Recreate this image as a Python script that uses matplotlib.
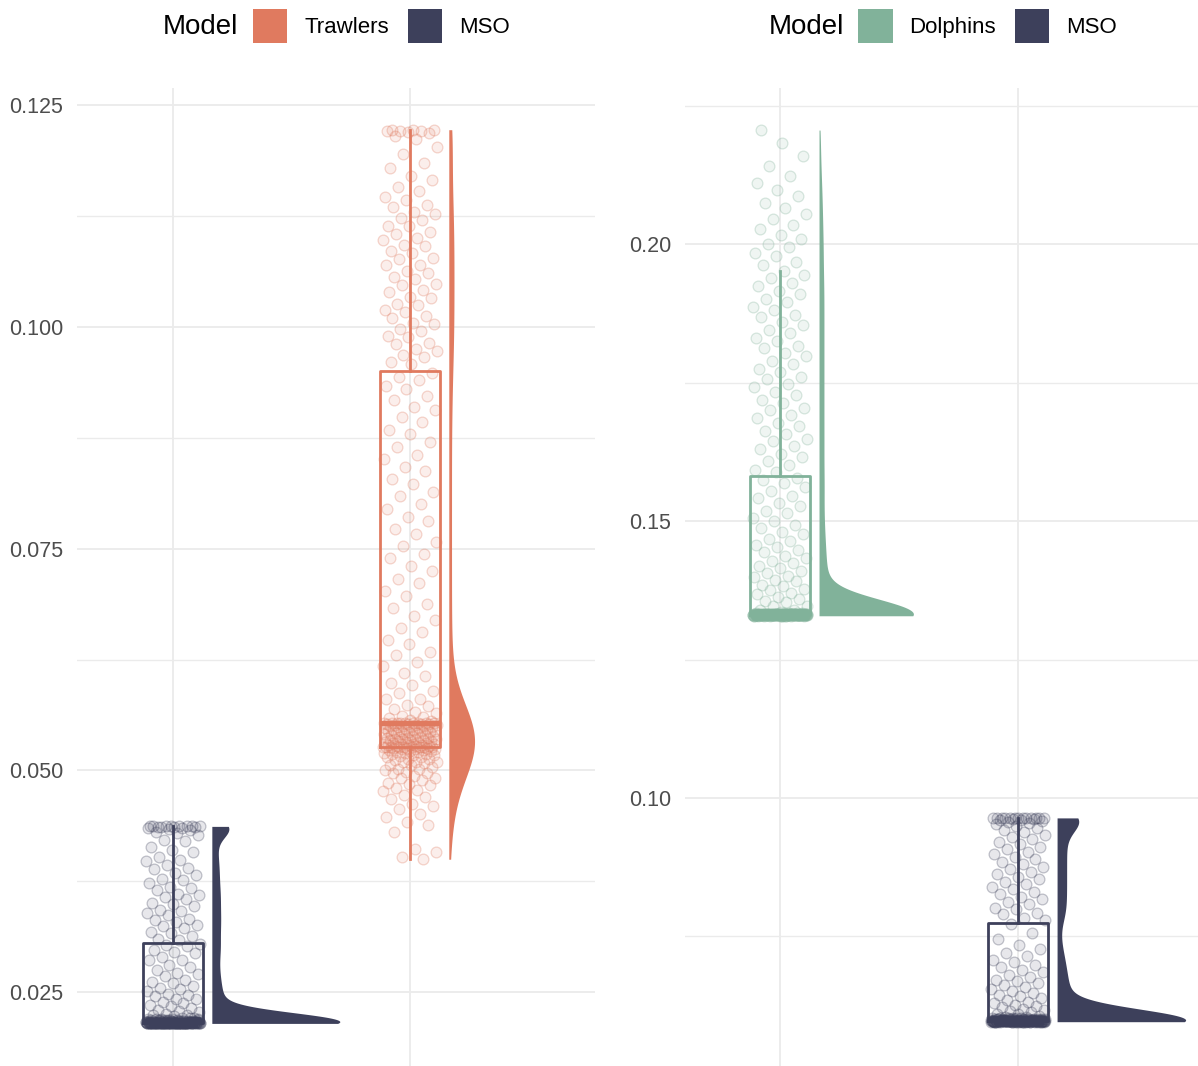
import numpy as np
import matplotlib.pyplot as plt
from matplotlib.colors import to_rgba
from matplotlib.patches import Patch

plt.rcParams['font.family'] = ['Liberation Sans', 'DejaVu Sans']

COL_TRAWL = '#E07A5F'
COL_MSO = '#3D405B'
COL_DOLPH = '#81B29A'

# %% data
mso_vs_trawlers = [
    0.0215, 0.0216, 0.0216, 0.0215, 0.0217, 0.0216, 0.0215, 0.0216, 0.0218, 0.0216,
    0.0215, 0.0216, 0.0217, 0.0216, 0.0215, 0.0216, 0.0216, 0.0217, 0.0215, 0.0216,
    0.0216, 0.0215, 0.0216, 0.0218, 0.0216, 0.0217, 0.0215, 0.0216, 0.0216, 0.0215,
    0.0217, 0.0216, 0.0215, 0.0216, 0.0216, 0.0217, 0.0216, 0.0215, 0.0216, 0.0218,
    0.0216, 0.0215, 0.0216, 0.0217, 0.0216, 0.0216, 0.0215, 0.0216, 0.0217, 0.0216,
    0.0215, 0.0216, 0.0216, 0.0218, 0.0215, 0.0216, 0.0217, 0.0216, 0.0215, 0.0216,
    0.0216, 0.0217, 0.0215, 0.0216, 0.0216, 0.0215, 0.0217, 0.0216, 0.0218, 0.0216,
    0.0215, 0.0216, 0.0217, 0.0216, 0.0215, 0.0216, 0.0216, 0.0219, 0.0216, 0.0215,
    0.0217, 0.0216, 0.0218, 0.0216, 0.0215, 0.0217, 0.0216, 0.0215, 0.0216, 0.0217,
    0.0216, 0.0215, 0.0217, 0.0216, 0.0218, 0.0216, 0.0215, 0.0216, 0.0217, 0.0216,
    0.0215, 0.0217, 0.0216, 0.0216, 0.0215, 0.0218, 0.0216, 0.0217, 0.0215, 0.0216,
    0.0216, 0.0216, 0.0215, 0.0217, 0.0216, 0.0215, 0.0216, 0.0218, 0.0216, 0.0217,
    0.0217, 0.0216, 0.0218, 0.0219, 0.0217, 0.0218, 0.0219, 0.0218, 0.0220, 0.0219,
    0.0218, 0.0219, 0.0220, 0.0219, 0.0220, 0.0221, 0.0219, 0.0220, 0.0221, 0.0220,
    0.0221, 0.0223, 0.0224, 0.0224, 0.0226, 0.0228, 0.0229, 0.0230, 0.0232, 0.0235,
    0.0236, 0.0238, 0.0239, 0.0242, 0.0243, 0.0246, 0.0247, 0.0248, 0.0251, 0.0254,
    0.0255, 0.0257, 0.0261, 0.0262, 0.0264, 0.0268, 0.0271, 0.0272, 0.0275, 0.0279,
    0.0281, 0.0286, 0.0287, 0.0290, 0.0294, 0.0295, 0.0298, 0.0302, 0.0303, 0.0305,
    0.0309, 0.0310, 0.0314, 0.0317, 0.0318, 0.0322, 0.0325, 0.0326, 0.0329, 0.0332,
    0.0333, 0.0337, 0.0339, 0.0342, 0.0343, 0.0347, 0.0350, 0.0351, 0.0355, 0.0357,
    0.0360, 0.0361, 0.0365, 0.0368, 0.0369, 0.0373, 0.0377, 0.0378, 0.0382, 0.0384,
    0.0389, 0.0390, 0.0393, 0.0398, 0.0399, 0.0403, 0.0408, 0.0410, 0.0414, 0.0420,
    0.0422, 0.0427, 0.0429, 0.0431, 0.0433, 0.0434, 0.0435, 0.0435, 0.0436, 0.0436,
    0.0436, 0.0437, 0.0437, 0.0437, 0.0437, 0.0437, 0.0436, 0.0437, 0.0437, 0.0437,
]

trawlers = [
    0.0400, 0.0403, 0.0408, 0.0411, 0.0431, 0.0438, 0.0442, 0.0448, 0.0451, 0.0457,
    0.0460, 0.0462, 0.0468, 0.0470, 0.0472, 0.0477, 0.0478, 0.0480, 0.0484, 0.0485,
    0.0486, 0.0489, 0.0491, 0.0492, 0.0494, 0.0497, 0.0497, 0.0498, 0.0500, 0.0502,
    0.0502, 0.0504, 0.0506, 0.0506, 0.0508, 0.0509, 0.0510, 0.0510, 0.0512, 0.0513,
    0.0513, 0.0515, 0.0515, 0.0516, 0.0517, 0.0517, 0.0518, 0.0519, 0.0520, 0.0520,
    0.0521, 0.0521, 0.0522, 0.0522, 0.0523, 0.0523, 0.0524, 0.0524, 0.0524, 0.0525,
    0.0525, 0.0525, 0.0526, 0.0526, 0.0526, 0.0526, 0.0527, 0.0527, 0.0527, 0.0527,
    0.0527, 0.0528, 0.0528, 0.0528, 0.0529, 0.0529, 0.0529, 0.0530, 0.0530, 0.0530,
    0.0531, 0.0531, 0.0532, 0.0532, 0.0532, 0.0533, 0.0533, 0.0534, 0.0534, 0.0534,
    0.0535, 0.0535, 0.0536, 0.0536, 0.0537, 0.0537, 0.0537, 0.0538, 0.0538, 0.0539,
    0.0539, 0.0540, 0.0540, 0.0541, 0.0541, 0.0542, 0.0542, 0.0543, 0.0543, 0.0544,
    0.0544, 0.0545, 0.0545, 0.0546, 0.0546, 0.0547, 0.0547, 0.0548, 0.0548, 0.0549,
    0.0549, 0.0549, 0.0550, 0.0550, 0.0550, 0.0551, 0.0551, 0.0551, 0.0552, 0.0552,
    0.0552, 0.0552, 0.0553, 0.0553, 0.0553, 0.0553, 0.0553, 0.0553, 0.0553, 0.0553,
    0.0554, 0.0556, 0.0557, 0.0559, 0.0560, 0.0561, 0.0565, 0.0566, 0.0569, 0.0573,
    0.0574, 0.0580, 0.0581, 0.0587, 0.0590, 0.0596, 0.0599, 0.0607, 0.0610, 0.0618,
    0.0622, 0.0630, 0.0634, 0.0643, 0.0647, 0.0656, 0.0660, 0.0669, 0.0674, 0.0683,
    0.0688, 0.0697, 0.0702, 0.0711, 0.0716, 0.0725, 0.0730, 0.0739, 0.0744, 0.0753,
    0.0758, 0.0767, 0.0772, 0.0781, 0.0786, 0.0795, 0.0800, 0.0809, 0.0814, 0.0823,
    0.0828, 0.0837, 0.0842, 0.0851, 0.0856, 0.0865, 0.0870, 0.0879, 0.0884, 0.0893,
    0.0898, 0.0906, 0.0910, 0.0918, 0.0922, 0.0930, 0.0933, 0.0940, 0.0943, 0.0948,
    0.0958, 0.0960, 0.0966, 0.0968, 0.0973, 0.0975, 0.0981, 0.0982, 0.0988, 0.0990,
    0.0995, 0.0997, 0.1003, 0.1004, 0.1010, 0.1012, 0.1017, 0.1019, 0.1025, 0.1026,
    0.1032, 0.1034, 0.1039, 0.1041, 0.1047, 0.1048, 0.1054, 0.1056, 0.1061, 0.1063,
    0.1069, 0.1070, 0.1076, 0.1078, 0.1083, 0.1085, 0.1091, 0.1092, 0.1098, 0.1100,
    0.1105, 0.1107, 0.1113, 0.1114, 0.1120, 0.1122, 0.1127, 0.1129, 0.1135, 0.1137,
    0.1143, 0.1146, 0.1153, 0.1157, 0.1165, 0.1170, 0.1179, 0.1185, 0.1195, 0.1202,
    0.1211, 0.1215, 0.1218, 0.1219, 0.1220, 0.1221, 0.1221, 0.1222, 0.1222, 0.1222,
]

dolphins = [
    0.1330, 0.1331, 0.1329, 0.1332, 0.1330, 0.1331, 0.1330, 0.1333, 0.1329, 0.1331,
    0.1330, 0.1332, 0.1331, 0.1330, 0.1329, 0.1331, 0.1330, 0.1332, 0.1331, 0.1330,
    0.1331, 0.1330, 0.1333, 0.1329, 0.1331, 0.1330, 0.1332, 0.1331, 0.1330, 0.1331,
    0.1330, 0.1329, 0.1331, 0.1332, 0.1330, 0.1331, 0.1330, 0.1333, 0.1331, 0.1330,
    0.1331, 0.1330, 0.1332, 0.1329, 0.1331, 0.1330, 0.1331, 0.1332, 0.1330, 0.1331,
    0.1330, 0.1331, 0.1329, 0.1332, 0.1330, 0.1331, 0.1330, 0.1333, 0.1331, 0.1330,
    0.1331, 0.1330, 0.1332, 0.1331, 0.1330, 0.1329, 0.1331, 0.1330, 0.1332, 0.1331,
    0.1330, 0.1331, 0.1330, 0.1333, 0.1329, 0.1331, 0.1330, 0.1332, 0.1331, 0.1330,
    0.1331, 0.1330, 0.1332, 0.1331, 0.1330, 0.1332, 0.1331, 0.1330, 0.1332, 0.1331,
    0.1330, 0.1331, 0.1333, 0.1330, 0.1332, 0.1331, 0.1329, 0.1330, 0.1331, 0.1332,
    0.1331, 0.1330, 0.1332, 0.1329, 0.1331, 0.1330, 0.1333, 0.1331, 0.1330, 0.1331,
    0.1332, 0.1330, 0.1331, 0.1329, 0.1331, 0.1330, 0.1332, 0.1331, 0.1333, 0.1330,
    0.1331, 0.1330, 0.1332, 0.1331, 0.1330, 0.1333, 0.1331, 0.1332, 0.1330, 0.1331,
    0.1332, 0.1331, 0.1330, 0.1333, 0.1331, 0.1332, 0.1333, 0.1331, 0.1332, 0.1333,
    0.1330, 0.1332, 0.1331, 0.1330, 0.1331, 0.1333, 0.1332, 0.1330, 0.1331, 0.1332,
    0.1331, 0.1333, 0.1330, 0.1332, 0.1331, 0.1332, 0.1333, 0.1331, 0.1332, 0.1333,
    0.1332, 0.1331, 0.1333, 0.1332, 0.1333, 0.1332, 0.1333, 0.1334, 0.1333, 0.1334,
    0.1333, 0.1334, 0.1334, 0.1333, 0.1334,
    0.1335, 0.1339, 0.1340, 0.1346, 0.1347, 0.1353, 0.1355, 0.1360, 0.1362, 0.1368,
    0.1370, 0.1375, 0.1377, 0.1383, 0.1385, 0.1391, 0.1393, 0.1399, 0.1401, 0.1407,
    0.1409, 0.1416, 0.1418, 0.1425, 0.1427, 0.1434, 0.1437, 0.1444, 0.1447, 0.1454,
    0.1457, 0.1464, 0.1468, 0.1476, 0.1480, 0.1488, 0.1492, 0.1500, 0.1505, 0.1514,
    0.1519, 0.1528, 0.1533, 0.1542, 0.1546, 0.1555, 0.1561, 0.1568, 0.1574, 0.1578,
    0.1588, 0.1593, 0.1602, 0.1608, 0.1616, 0.1621, 0.1631, 0.1635, 0.1644, 0.1649,
    0.1658, 0.1663, 0.1672, 0.1677, 0.1686, 0.1691, 0.1700, 0.1705, 0.1714, 0.1719,
    0.1728, 0.1733, 0.1742, 0.1747, 0.1756, 0.1761, 0.1770, 0.1775, 0.1784, 0.1789,
    0.1798, 0.1803, 0.1812, 0.1817, 0.1826, 0.1831, 0.1840, 0.1845, 0.1854, 0.1859,
    0.1868, 0.1873, 0.1882, 0.1887, 0.1896, 0.1901, 0.1910, 0.1915, 0.1924, 0.1929,
    0.1939, 0.1944, 0.1952, 0.1962, 0.1968, 0.1978, 0.1984, 0.1994, 0.2000, 0.2010,
    0.2017, 0.2028, 0.2035, 0.2046, 0.2054, 0.2066, 0.2074, 0.2087, 0.2097, 0.2111,
    0.2123, 0.2141, 0.2159, 0.2183, 0.2206,
]

mso_vs_dolphins = [
    0.0597, 0.0598, 0.0596, 0.0597, 0.0599, 0.0597, 0.0596, 0.0598, 0.0597, 0.0597,
    0.0596, 0.0597, 0.0598, 0.0597, 0.0596, 0.0599, 0.0597, 0.0598, 0.0596, 0.0597,
    0.0597, 0.0596, 0.0598, 0.0597, 0.0597, 0.0599, 0.0596, 0.0597, 0.0598, 0.0597,
    0.0598, 0.0597, 0.0596, 0.0597, 0.0597, 0.0598, 0.0597, 0.0596, 0.0599, 0.0597,
    0.0597, 0.0596, 0.0597, 0.0598, 0.0597, 0.0597, 0.0596, 0.0598, 0.0597, 0.0597,
    0.0596, 0.0597, 0.0597, 0.0599, 0.0596, 0.0597, 0.0598, 0.0597, 0.0596, 0.0597,
    0.0597, 0.0598, 0.0596, 0.0597, 0.0597, 0.0596, 0.0598, 0.0597, 0.0599, 0.0597,
    0.0596, 0.0597, 0.0598, 0.0597, 0.0596, 0.0597, 0.0597, 0.0600, 0.0597, 0.0596,
    0.0598, 0.0597, 0.0599, 0.0598, 0.0600, 0.0597, 0.0599, 0.0598, 0.0600, 0.0599,
    0.0597, 0.0598, 0.0600, 0.0599, 0.0598, 0.0597, 0.0596, 0.0598, 0.0597, 0.0599,
    0.0598, 0.0597, 0.0599, 0.0596, 0.0597, 0.0598, 0.0597, 0.0599, 0.0597, 0.0598,
    0.0596, 0.0598, 0.0597, 0.0599, 0.0598, 0.0597, 0.0600, 0.0598, 0.0597, 0.0599,
    0.0598, 0.0599, 0.0600, 0.0599, 0.0601, 0.0600, 0.0599, 0.0601, 0.0600, 0.0602,
    0.0600, 0.0601, 0.0602, 0.0601, 0.0603, 0.0602, 0.0601, 0.0603, 0.0602, 0.0604,
    0.0605, 0.0607, 0.0609, 0.0610, 0.0613, 0.0615, 0.0617, 0.0619, 0.0622, 0.0625,
    0.0627, 0.0630, 0.0632, 0.0636, 0.0639, 0.0642, 0.0645, 0.0648, 0.0651, 0.0655,
    0.0658, 0.0662, 0.0665, 0.0669, 0.0672, 0.0677, 0.0681, 0.0685, 0.0689, 0.0694,
    0.0699, 0.0703, 0.0708, 0.0714, 0.0720, 0.0727, 0.0735, 0.0745, 0.0757, 0.0772,
    0.0780, 0.0784, 0.0790, 0.0793, 0.0799, 0.0802, 0.0808, 0.0812, 0.0817, 0.0821,
    0.0826, 0.0830, 0.0835, 0.0839, 0.0844, 0.0848, 0.0853, 0.0857, 0.0862, 0.0866,
    0.0871, 0.0875, 0.0880, 0.0884, 0.0889, 0.0893, 0.0898, 0.0902, 0.0907, 0.0911,
    0.0916, 0.0920, 0.0925, 0.0929, 0.0934, 0.0938, 0.0942, 0.0946, 0.0950, 0.0953,
    0.0955, 0.0957, 0.0959, 0.0960, 0.0961, 0.0962, 0.0962, 0.0963, 0.0963, 0.0963,
    0.0964, 0.0964, 0.0964, 0.0964, 0.0964, 0.0963, 0.0964, 0.0964, 0.0963, 0.0964,
]

left_groups = [mso_vs_trawlers, trawlers]
left_colors = [COL_MSO, COL_TRAWL]
left_labels = ['Trawlers', 'MSO']
left_ticks = [0.025, 0.050, 0.075, 0.100, 0.125]

right_groups = [dolphins, mso_vs_dolphins]
right_colors = [COL_DOLPH, COL_MSO]
right_labels = ['Dolphins', 'MSO']
right_ticks = [0.10, 0.15, 0.20]


def nrd0(x):
    q75, q25 = np.percentile(x, [75, 25])
    lo = min(np.std(x, ddof=1), (q75 - q25) / 1.34)
    return 0.9 * lo * len(x) ** -0.2


def half_density(x, adjust=0.5, npts=512):
    x = np.asarray(x)
    bw = adjust * nrd0(x)
    grid = np.linspace(x.min(), x.max(), npts)
    z = (grid[:, None] - x[None, :]) / bw
    dens = np.exp(-0.5 * z ** 2).sum(axis=1) / (len(x) * bw * np.sqrt(2 * np.pi))
    return grid, dens


def raincloud(ax, groups, colors, max_width=0.54, offset=0.164):
    curves = [half_density(v) for v in groups]
    peak = max(d.max() for _, d in curves)
    for pos, (vals, col, (grid, dens)) in enumerate(zip(groups, colors, curves), start=1):
        vals = np.asarray(vals)
        jit = ((np.arange(len(vals)) * 0.6180339887 + 0.37 * pos) % 1 - 0.5) * 0.23
        ax.scatter(pos + jit, vals, s=60, facecolor=to_rgba(col, 0.12),
                   edgecolor=to_rgba(col, 0.3), linewidth=0.9, zorder=2)
        lw = 2.0
        ax.boxplot(vals, positions=[pos], widths=0.25, whis=1.5, showfliers=False,
                   showcaps=False, manage_ticks=False,
                   boxprops=dict(color=col, lw=lw),
                   whiskerprops=dict(color=col, lw=lw),
                   medianprops=dict(color=col, lw=lw * 1.9, solid_capstyle='butt'),
                   zorder=3)
        ax.fill_betweenx(grid, pos + offset, pos + offset + max_width * dens / peak,
                         color=col, lw=0, zorder=3)


def style_axis(ax, ticks, fmt, xlim, ylim):
    ax.set_xticks([1, 2])
    ax.set_xticklabels([])
    ax.set_yticks(ticks)
    ax.set_yticklabels([fmt.format(t) for t in ticks])
    step = ticks[1] - ticks[0]
    minor = np.arange(ticks[0] - step / 2, ylim[1], step)
    ax.set_yticks(minor[minor > ylim[0]], minor=True)
    ax.set_xlim(*xlim)
    ax.set_ylim(*ylim)
    ax.grid(True, which='major', color='#EBEBEB', lw=1.3)
    ax.grid(True, which='minor', axis='y', color='#EBEBEB', lw=1.0)
    ax.set_axisbelow(True)
    ax.tick_params(which='both', length=0, labelsize=15.5, labelcolor='#4D4D4D', pad=10)
    for s in ax.spines.values():
        s.set_visible(False)


def add_legend(ax, labels, colors, title_x):
    ax.text(title_x, 1.0 + 61 / 978, 'Model', transform=ax.transAxes,
            fontsize=20, ha='left', va='center', color='black')
    handles = [Patch(facecolor=c, edgecolor='none') for c in colors]
    ax.legend(handles, labels, ncol=2, loc='center left', frameon=False,
              bbox_to_anchor=(title_x + 90 / 518, 1.0 + 62 / 978),
              fontsize=16, handlelength=1.55, handleheight=2.0,
              handletextpad=0.75, columnspacing=0.85, borderpad=0, borderaxespad=0)


fig = plt.figure(figsize=(11.98, 10.66), dpi=100)
top = 1 - 88 / 1066
ax1 = fig.add_axes([77 / 1198, 0, (595 - 77) / 1198, top])
ax2 = fig.add_axes([685 / 1198, 0, (1198 - 685) / 1198, top])

raincloud(ax1, left_groups, left_colors)
style_axis(ax1, left_ticks, '{:.3f}', (0.595, 2.781), (0.0167, 0.1269))
add_legend(ax1, left_labels, [COL_TRAWL, COL_MSO], (163 - 77) / 518)

raincloud(ax2, right_groups, right_colors)
style_axis(ax2, right_ticks, '{:.2f}', (0.601, 2.756), (0.0516, 0.2282))
add_legend(ax2, right_labels, [COL_DOLPH, COL_MSO], (769 - 685) / 513)

fig.savefig('out.png', dpi=100, facecolor='white')
